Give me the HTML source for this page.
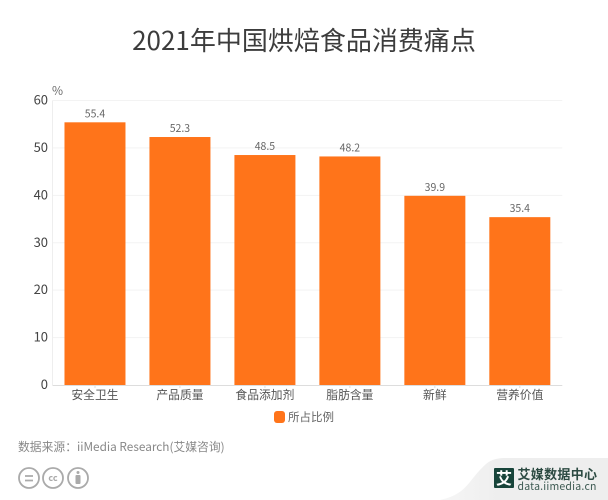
<!DOCTYPE html>
<html lang="zh">
<head>
<meta charset="utf-8">
<title>2021年中国烘焙食品消费痛点</title>
<style>
html,body{margin:0;padding:0;background:#fff}
svg{display:block}
text{font-family:"Noto Sans CJK SC","Liberation Sans",sans-serif}
</style>
</head>
<body>
<svg id="chart" xmlns="http://www.w3.org/2000/svg" width="608" height="500" viewBox="0 0 608 500">
  <defs>
    <linearGradient id="bannerFade" x1="0" y1="0" x2="1" y2="0">
      <stop offset="0" stop-color="#f6f6f6"/>
      <stop offset="0.35" stop-color="#eeeeee"/>
      <stop offset="1" stop-color="#eeeeee"/>
    </linearGradient>
  </defs>
  <rect width="608" height="500" fill="#fff"/>
  <text x="304" y="50" text-anchor="middle" font-size="26" fill="#3c3c3c">2021年中国烘焙食品消费痛点</text>
  <g id="grid"></g>
  <g id="bars"></g>
  <g id="axes"></g>
  <text x="52" y="95" font-size="12" fill="#666">%</text>

  <g>
    <rect x="274" y="411" width="11" height="12" rx="3" fill="#ff741a"/>
    <text x="288" y="421" font-size="11.500" fill="#666">所占比例</text>
  </g>

  <text x="18" y="451" font-size="11.800" fill="#888">数据来源：iiMedia Research(艾媒咨询)</text>

  <g fill="none" stroke="#aaa" stroke-width="1.800">
    <circle cx="29" cy="478" r="10"/>
    <path d="M25 476h8M25 480.500h8"/>
    <circle cx="53" cy="478" r="10"/>
    <text x="53" y="481" text-anchor="middle" font-size="9" font-weight="bold" fill="#aaa" stroke="none">cc</text>
    <circle cx="78" cy="478" r="10"/>
    <circle cx="78" cy="472.500" r="1.500" fill="#aaa" stroke="none"/>
    <rect x="75.500" y="475" width="5" height="9" rx="1" fill="#aaa" stroke="none"/>
  </g>

  <g>
    <path d="M440 500C468 494 468 480 486 464C492 459 498 458 506 458H608V500Z" fill="url(#bannerFade)"/>
    <rect x="494" y="468" width="20" height="20" rx="1" fill="#17443a"/>
    <text x="504" y="484" text-anchor="middle" font-size="16" font-weight="bold" fill="#fff">艾</text>
    <text x="517.500" y="479" font-size="13" font-weight="bold" fill="#2c4a42" letter-spacing="0.300">艾媒数据中心</text>
    <text x="517.500" y="490" font-size="10.500" fill="#3d5a52" letter-spacing="0.200">data.iimedia.cn</text>
  </g>
</svg>
<script>
const categories = ["安全卫生", "产品质量", "食品添加剂", "脂肪含量", "新鲜", "营养价值"];
const seriesValues = [55.4, 52.3, 48.5, 48.2, 39.9, 35.4];
const valueLabels = ["55.4", "52.3", "48.5", "48.2", "39.9", "35.4"];
const yTicks = [0, 10, 20, 30, 40, 50, 60];

const NS = "http://www.w3.org/2000/svg";
const plotLeft = 52.5, plotRight = 562.3, plotTop = 100.5, plotBottom = 385;
const yMax = 60;
const barWidth = 61;
const yScale = v => plotBottom - (v / yMax) * (plotBottom - plotTop);
const band = (plotRight - plotLeft) / categories.length;
const xCenter = i => plotLeft + band * (i + 0.5);

function make(tag, attrs, parent, text) {
  const el = document.createElementNS(NS, tag);
  for (const k in attrs) el.setAttribute(k, attrs[k]);
  if (text !== undefined) el.textContent = text;
  parent.appendChild(el);
  return el;
}

const gridG = document.getElementById("grid");
const barsG = document.getElementById("bars");
const axesG = document.getElementById("axes");

yTicks.forEach(t => {
  const y = yScale(t);
  if (t !== 0) {
    const line = make("line", {x1: plotLeft, x2: plotRight, y1: y, y2: y, stroke: "#f3f3f3", "stroke-width": 1}, gridG);
    
    
  }
  const label = make("text", {x: 48, y: y + 4, "text-anchor": "end", "font-size": 13, fill: "#444"}, axesG, String(t));
  
  
});

const yAxis = make("line", {x1: plotLeft, x2: plotLeft, y1: plotTop, y2: plotBottom, stroke: "#eee", "stroke-width": 1}, axesG);



seriesValues.forEach((v, i) => {
  const top = yScale(v);
  const bar = make("rect", {x: xCenter(i) - barWidth / 2, y: top, width: barWidth, height: plotBottom - top, fill: "#ff741a"}, barsG);
  
  
  const val = make("text", {x: xCenter(i), y: top - 5, "text-anchor": "middle", "font-size": 10.500, fill: "#666"}, barsG, valueLabels[i]);
  
  
  const tick = make("line", {x1: xCenter(i), x2: xCenter(i), y1: plotBottom, y2: plotBottom + 3, stroke: "#ddd", "stroke-width": 1}, axesG);
  
  
  const cat = make("text", {x: xCenter(i), y: plotBottom + 14, "text-anchor": "middle", "font-size": 11.800, fill: "#555"}, axesG, categories[i]);
  
  
});

const xAxis = make("line", {x1: plotLeft, x2: plotRight, y1: plotBottom + 0.5, y2: plotBottom + 0.5, stroke: "#ddd", "stroke-width": 1}, axesG);


</script>
</body>
</html>
